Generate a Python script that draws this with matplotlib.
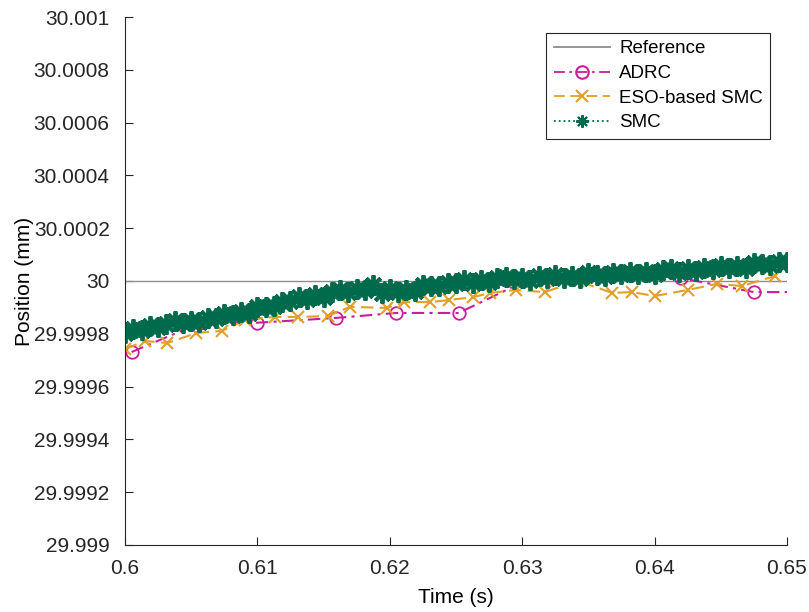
import matplotlib
matplotlib.use("Agg")
import matplotlib.pyplot as plt
import numpy as np

# === Data ===
t_ref = [0.60, 0.65]
ref_pos = [30.0, 30.0]

adrc_t = [0.6005, 0.6057, 0.6100, 0.6159, 0.6205, 0.6252, 0.6304, 0.6364, 0.6420, 0.6475, 0.6500]
adrc_pos = [29.999731, 29.999842, 29.999842, 29.999860, 29.999879, 29.999879,
            30.000004, 30.000032, 30.000011, 29.999958, 29.999958]

eso_t = [0.6000, 0.6015, 0.6032, 0.6054, 0.6073, 0.6091, 0.6113, 0.6131, 0.6153,
         0.6170, 0.6198, 0.6211, 0.6230, 0.6245, 0.6263, 0.6276, 0.6295, 0.6317,
         0.6342, 0.6368, 0.6383, 0.6400, 0.6425, 0.6447, 0.6466, 0.6491]
eso_pos = [29.999742, 29.999773, 29.999765, 29.999803, 29.999811, 29.999852,
           29.999864, 29.999864, 29.999867, 29.999902, 29.999898, 29.999920,
           29.999920, 29.999928, 29.999939, 29.999955, 29.999966, 29.999958,
           30.000000, 29.999955, 29.999958, 29.999943, 29.999966, 29.999989,
           29.999981, 30.000019]

smc_pos = [29.999803, 29.999817, 29.999813, 29.999829, 29.999824, 29.999839, 29.999847,
           29.999842, 29.999850, 29.999846, 29.999861, 29.999860, 29.999876, 29.999871,
           29.999882, 29.999878, 29.999900, 29.999902, 29.999904, 29.999922, 29.999926,
           29.999938, 29.999931, 29.999946, 29.999940, 29.999957, 29.999966, 29.999959,
           29.999970, 29.999967, 29.999984, 29.999953, 29.999969, 29.999960, 29.999967,
           29.999964, 29.999983, 29.999981, 29.999980, 29.999992, 29.999992, 30.000002,
           29.999993, 30.000003, 29.999997, 30.000010, 30.000016, 30.000006, 30.000013,
           30.000005, 30.000018, 30.000013, 30.000022, 30.000013, 30.000020, 30.000013,
           30.000029, 30.000023, 30.000020, 30.000030, 30.000027, 30.000034, 30.000025,
           30.000035, 30.000027, 30.000040, 30.000046, 30.000035, 30.000044, 30.000038,
           30.000050, 30.000047, 30.000058, 30.000049, 30.000056, 30.000049, 30.000067,
           30.000063, 30.000059, 30.000071, 30.000072]
smc_t = np.linspace(0.60, 0.65, len(smc_pos))  # uniform sample times

x_ticks = [0.60, 0.61, 0.62, 0.63, 0.64, 0.65]
x_labels = ["0.6", "0.61", "0.62", "0.63", "0.64", "0.65"]
y_ticks = [29.999, 29.9992, 29.9994, 29.9996, 29.9998, 30.0,
           30.0002, 30.0004, 30.0006, 30.0008, 30.001]
y_labels = ["29.999", "29.9992", "29.9994", "29.9996", "29.9998", "30",
            "30.0002", "30.0004", "30.0006", "30.0008", "30.001"]

# === Style ===
plt.rcParams.update({
    "font.family": ["Liberation Sans", "DejaVu Sans"],
    "font.size": 15,
})

c_ref = "#8c8c8c"
c_adrc = "#c81e9c"
c_eso = "#e0a02a"
c_smc = "#006b4c"

fig = plt.figure(figsize=(8.09, 6.12), dpi=100)
ax = fig.add_axes([0.1545, 0.1095, 0.8183, 0.8627])

ax.plot(t_ref, ref_pos, color=c_ref, linewidth=1.0, label="Reference")
ax.plot(adrc_t, adrc_pos, color=c_adrc, linestyle=(0, (6, 2.5, 1.5, 2.5)), linewidth=1.5,
        marker="o", markersize=9, markerfacecolor="none", markeredgewidth=1.3,
        markevery=list(range(len(adrc_t) - 1)), label="ADRC")
ax.plot(eso_t, eso_pos, color=c_eso, linestyle=(0, (6, 3)), linewidth=1.5,
        marker="x", markersize=9, markeredgewidth=1.5, label="ESO-based SMC")
ax.plot(smc_t, smc_pos, color=c_smc, linestyle=":", linewidth=2.5,
        marker=(8, 2, 0), markersize=14.5, markeredgewidth=2.8, label="SMC")

ax.set_xlim(0.60, 0.65)
ax.set_ylim(29.999, 30.001)
ax.set_xticks(x_ticks)
ax.set_xticklabels(x_labels)
ax.set_yticks(y_ticks)
ax.set_yticklabels(y_labels)
ax.tick_params(direction="in", length=6, width=0.8, colors="#262626", labelcolor="#262626")
ax.tick_params(axis="x", pad=10)
ax.tick_params(axis="y", pad=11)
for side in ["top", "right"]:
    ax.spines[side].set_visible(False)
for side in ["left", "bottom"]:
    ax.spines[side].set_color("#262626")
    ax.spines[side].set_linewidth(0.8)

ax.set_xlabel("Time (s)", labelpad=7)
ax.set_ylabel("Position (mm)", labelpad=0)

leg = ax.legend(loc="upper right", bbox_to_anchor=(0.975, 0.970), borderaxespad=0,
                fontsize=13.5, handlelength=3.0, handletextpad=0.5, borderpad=0.4,
                labelspacing=0.4, fancybox=False, edgecolor="#262626", framealpha=1)
leg.get_frame().set_linewidth(0.8)
for h in leg.legend_handles:
    h.set_markersize(9)
    h.set_markeredgewidth(1.5)
    h.set_linewidth(1.3)

fig.savefig("out.png", dpi=100)
